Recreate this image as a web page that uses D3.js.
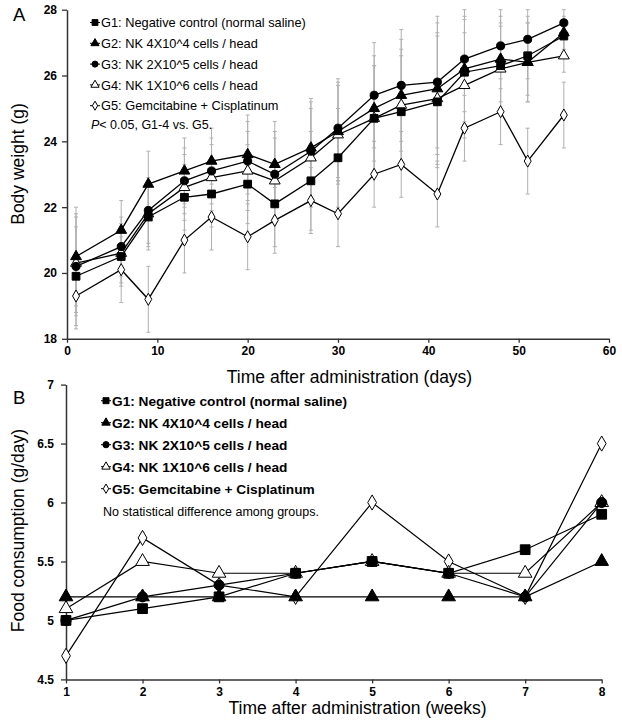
<!DOCTYPE html>
<html><head><meta charset="utf-8">
<script src="https://cdn.jsdelivr.net/npm/d3@7"></script>
<style>
html,body{margin:0;padding:0;background:#fff;}
svg{display:block;font-family:"Liberation Sans",Arial,sans-serif;}
</style></head>
<body><svg id="c" width="622" height="725"></svg>
<script>
// ---- Panel A: body weight ----
const daysA = [1,6,9,13,16,20,23,27,30,34,37,41,44,48,51,55];
const g1A = [19.9,20.5,21.7,22.3,22.4,22.7,22.1,22.8,23.5,24.7,24.9,25.2,26.1,26.3,26.6,27.2];
const g2A = [20.5,21.3,22.7,23.1,23.4,23.6,23.3,23.8,24.3,25.0,25.4,25.6,26.2,26.5,26.4,27.3];
const g3A = [20.2,20.8,21.9,22.8,23.1,23.4,23.0,23.7,24.4,25.4,25.7,25.8,26.5,26.9,27.1,27.6];
const g4A = [20.3,20.6,21.8,22.6,22.9,23.1,22.8,23.5,24.2,24.7,25.1,25.3,25.7,26.2,26.4,26.6];
const g5A = [19.3,20.1,19.2,21.0,21.7,21.1,21.6,22.2,21.8,23.0,23.3,22.4,24.4,24.9,23.4,24.8];
const sdNK = [1.5,0.9,1.0,1.0,1.0,1.2,1.3,1.5,1.5,1.6,1.7,2.0,1.6,1.3,1.2,0.5];
const sdG5 = [1.0,1.0,1.0,1.0,1.0,1.0,1.0,1.0,1.0,1.0,1.0,1.0,1.0,1.0,1.0,1.0];
const xTicksA = [0,10,20,30,40,50,60];
const yTicksA = [18,20,22,24,26,28];
const legendA = ["G1: Negative control (normal saline)","G2: NK 4X10^4 cells / head","G3: NK 2X10^5 cells / head","G4: NK 1X10^6 cells / head","G5: Gemcitabine + Cisplatinum"];
const noteA = ["< 0.05, G1-4 vs. G5."];

// ---- Panel B: food consumption ----
const weeksB = [1,2,3,4,5,6,7,8];
const g1B = [5.0,5.1,5.2,5.4,5.5,5.4,5.6,5.9];
const g2B = [5.2,5.2,5.2,5.2,5.2,5.2,5.2,5.5];
const g3B = [5.0,5.2,5.3,5.4,5.5,5.4,5.2,6.0];
const g4B = [5.1,5.5,5.4,5.4,5.5,5.4,5.4,6.0];
const g5B = [4.7,5.7,5.3,5.2,6.0,5.5,5.2,6.5];
const yTicksB = [4.5,5,5.5,6,6.5,7];
const legendB = ["G1: Negative control (normal saline)","G2: NK 4X10^4 cells / head","G3: NK 2X10^5 cells / head","G4: NK 1X10^6 cells / head","G5: Gemcitabine + Cisplatinum"];
const noteB = "No statistical difference among groups.";

const svg = d3.select("#c");
const FONT = "'Liberation Sans',Arial,sans-serif";

const markers = [
  {type:d3.symbolSquare, fill:"#000"},
  {type:d3.symbolTriangle, fill:"#000"},
  {type:d3.symbolCircle, fill:"#000"},
  {type:d3.symbolTriangle, fill:"#fff"},
  {type:d3.symbolDiamond, fill:"#fff"}
];
const sizeFactor = [1, 0.85, 0.85, 0.85, 0.7];

function styleAxis(g){
  g.select(".domain").attr("stroke","#333").attr("stroke-width",1.5);
  g.selectAll(".tick line").attr("stroke","#333").attr("stroke-width",1.3);
  g.selectAll(".tick text").attr("fill","#000").style("font-family",FONT).style("font-weight","bold").style("font-size","12px");
}

function drawMarker(g, i, x, y, size){
  const m = markers[i];
  g.append("path")
    .attr("d", d3.symbol().type(m.type).size(size*sizeFactor[i])())
    .attr("transform", `translate(${x},${y})`)
    .attr("fill", m.fill).attr("stroke","#000").attr("stroke-width", 1);
}

function legend(g, labels, x0, y0, dy, fs, bold, msize){
  labels.forEach((t,i)=>{
    const y = y0 + i*dy;
    g.append("line").attr("x1",x0-5).attr("x2",x0+5).attr("y1",y).attr("y2",y).attr("stroke","#000").attr("stroke-width",1);
    drawMarker(g, i, x0, y, msize);
    g.append("text").attr("x",x0+6).attr("y",y).attr("dy","0.36em")
      .style("font-family",FONT).style("font-size",fs+"px").style("font-weight",bold?"bold":"normal")
      .text(t);
  });
}

// ===== Panel A =====
{
  const x = d3.scaleLinear().domain([0,60]).range([67,609]);
  const y = d3.scaleLinear().domain([18,28]).range([338.8,9.7]);
  const series = [g1A,g2A,g3A,g4A,g5A];
  const sds = [sdNK,sdNK,sdNK,sdNK,sdG5];

  const eb = svg.append("g");
  series.forEach((s,si)=>{
    s.forEach((v,i)=>{
      const hi = Math.min(28, v + sds[si][i]);
      const lo = Math.max(18, v - sds[si][i]);
      const xx = x(daysA[i]);
      eb.append("line").attr("x1",xx).attr("x2",xx).attr("y1",y(hi)).attr("y2",y(lo)).attr("stroke","#b0b0b0").attr("stroke-width",1);
      [hi,lo].forEach(e=>{
        eb.append("line").attr("x1",xx-2).attr("x2",xx+2).attr("y1",y(e)).attr("y2",y(e)).attr("stroke","#b0b0b0").attr("stroke-width",1);
      });
    });
  });

  svg.append("g").attr("transform","translate(0,338.8)")
    .call(d3.axisBottom(x).tickValues(xTicksA).tickSize(4).tickSizeOuter(0).tickPadding(4)).call(styleAxis);
  svg.append("g").attr("transform","translate(67,0)")
    .call(d3.axisLeft(y).tickValues(yTicksA).tickSize(5).tickSizeOuter(0).tickPadding(5)).call(styleAxis);

  const line = d3.line().x((d,i)=>x(daysA[i])).y(d=>y(d));
  const lg = svg.append("g");
  series.forEach(s=>{
    lg.append("path").attr("d",line(s)).attr("fill","none").attr("stroke","#000").attr("stroke-width",1.3);
  });
  const mg = svg.append("g");
  [4,3,1,2,0].forEach(si=>{
    series[si].forEach((v,i)=>drawMarker(mg, si, x(daysA[i]), y(v), 60));
  });

  legend(svg.append("g"), legendA, 95, 22.5, 20.8, 12.8, false, 34);
  const nt = svg.append("text").attr("x",91).attr("y",124).attr("dy","0.36em")
    .style("font-family",FONT).style("font-size","12.5px");
  nt.append("tspan").style("font-style","italic").text("P");
  nt.append("tspan").text(noteA[0]);

  svg.append("text").attr("x",349.5).attr("y",376.5).attr("dy","0.36em").attr("text-anchor","middle")
    .style("font-family",FONT).style("font-size","17.5px").text("Time after administration (days)");
  svg.append("text").attr("transform","translate(18,164) rotate(-90)").attr("dy","0.36em").attr("text-anchor","middle")
    .style("font-family",FONT).style("font-size","17.5px").text("Body weight (g)");
  svg.append("text").attr("x",13).attr("y",21).style("font-family",FONT).style("font-size","18.5px").text("A");
}

// ===== Panel B =====
{
  const x = d3.scaleLinear().domain([1,8]).range([66,601.7]);
  const y = d3.scaleLinear().domain([4.5,7]).range([679.4,384.6]);
  const series = [g1B,g2B,g3B,g4B,g5B];

  svg.append("g").attr("transform","translate(0,679.4)")
    .call(d3.axisBottom(x).tickValues(weeksB).tickSize(4).tickSizeOuter(0).tickPadding(4).tickFormat(d3.format("d"))).call(styleAxis);
  svg.append("g").attr("transform","translate(66,0)")
    .call(d3.axisLeft(y).tickValues(yTicksB).tickSize(5).tickSizeOuter(0).tickPadding(7)
      .tickFormat(d=> d%1===0 ? String(d) : d.toFixed(1))).call(styleAxis);

  const line = d3.line().x((d,i)=>x(weeksB[i])).y(d=>y(d));
  const lg = svg.append("g");
  series.forEach(s=>{
    lg.append("path").attr("d",line(s)).attr("fill","none").attr("stroke","#000").attr("stroke-width",1.2);
  });
  const mg = svg.append("g");
  [4,3,1,2,0].forEach(si=>{
    series[si].forEach((v,i)=>drawMarker(mg, si, x(weeksB[i]), y(v), 95));
  });

  legend(svg.append("g"), legendB, 106, 400.7, 22, 13.7, true, 36);
  svg.append("text").attr("x",103).attr("y",511).attr("dy","0.36em")
    .style("font-family",FONT).style("font-size","12.5px").text(noteB);

  svg.append("text").attr("x",357.5).attr("y",707.5).attr("dy","0.36em").attr("text-anchor","middle")
    .style("font-family",FONT).style("font-size","17.5px").text("Time after administration (weeks)");
  svg.append("text").attr("transform","translate(18,530.5) rotate(-90)").attr("dy","0.36em").attr("text-anchor","middle")
    .style("font-family",FONT).style("font-size","17.5px").text("Food consumption (g/day)");
  svg.append("text").attr("x",13).attr("y",404).style("font-family",FONT).style("font-size","18.5px").text("B");
}
</script></body></html>
